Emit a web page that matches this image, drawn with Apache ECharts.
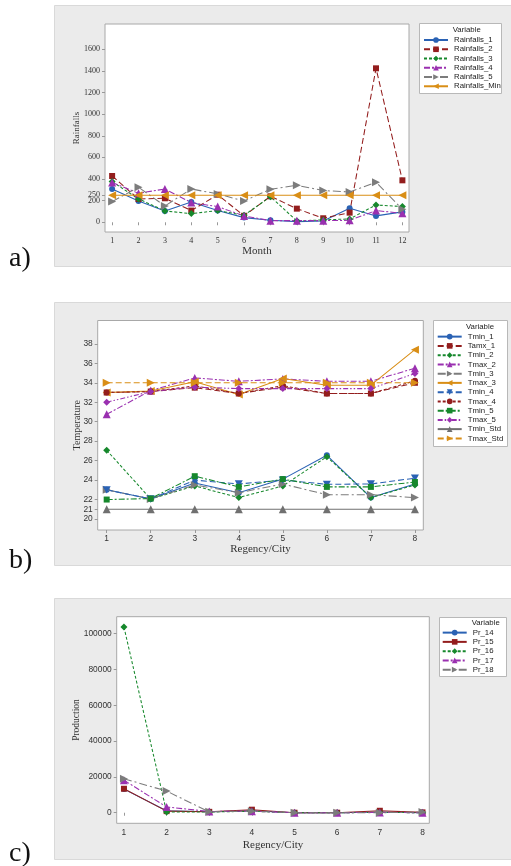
<!DOCTYPE html>
<html>
<head>
<meta charset="utf-8">
<script src="https://cdn.jsdelivr.net/npm/echarts@6/dist/echarts.min.js"></script>
<style>
  html, body { margin: 0; padding: 0; background: #fff; }
  #chart { width: 511px; height: 866px; }
</style>
</head>
<body>
<div id="chart"></div>
<script>
// ---- a) monthly rainfall ----
const months = [1, 2, 3, 4, 5, 6, 7, 8, 9, 10, 11, 12];
const rainfalls1 = [308, 197, 105, 188, 108, 43, 18, 6, 12, 130, 59, 96];
const rainfalls2 = [428, 215, 222, 108, 255, 60, 240, 126, 37, 89, 1424, 388];
const rainfalls3 = [376, 216, 105, 80, 108, 65, 237, 12, 22, 31, 160, 145];
const rainfalls4 = [367, 268, 308, 182, 145, 59, 15, 15, 15, 18, 108, 83];
const rainfalls5 = [191, 324, 151, 308, 262, 197, 305, 342, 293, 281, 370, 120];
const rainfallsMin = [250, 250, 250, 250, 250, 250, 250, 250, 250, 250, 250, 250];
const rainTicks = [0, 200, 250, 400, 600, 800, 1000, 1200, 1400, 1600];

// ---- b) temperature per regency/city ----
const regencies = [1, 2, 3, 4, 5, 6, 7, 8];
const tmin1 = [23.0, 22.06, 23.7, 22.7, 24.1, 26.55, 22.2, 23.6];
const tamx1 = [33.0, 33.1, 33.5, 32.9, 33.55, 32.9, 32.9, 34.0];
const tmin2 = [27.06, 22.06, 23.4, 22.2, 23.4, 26.4, 22.2, 23.5];
const tmax2 = [30.76, 33.2, 34.5, 34.15, 34.4, 34.15, 34.15, 35.5];
const tmin3 = [23.0, 22.06, 23.5, 22.7, 23.6, 22.5, 22.5, 22.2];
const tmax3 = [33.0, 33.15, 34.1, 32.8, 34.45, 33.75, 33.75, 37.4];
const tmin4 = [23.0, 22.06, 24.0, 23.6, 24.0, 23.57, 23.6, 24.2];
const tmax4 = [33.0, 33.1, 33.68, 32.9, 33.7, 32.9, 32.9, 34.2];
const tmin5 = [22.0, 22.1, 24.4, 23.3, 24.1, 23.3, 23.3, 23.8];
const tmax5 = [32.0, 33.1, 33.55, 33.4, 33.4, 33.4, 33.4, 34.95];
const tminStd = [21, 21, 21, 21, 21, 21, 21, 21];
const tmaxStd = [34, 34, 34, 34, 34, 34, 34, 34];
const tempTicks = [20, 21, 22, 24, 26, 28, 30, 32, 34, 36, 38];

// ---- c) production per regency/city ----
const pr14 = [13200, 1100, 500, 1100, 0, 0, 400, 0];
const pr15 = [13400, 900, 500, 1700, 0, 0, 1100, 200];
const pr16 = [103700, 400, 400, 800, 0, 0, 200, 0];
const pr17 = [18200, 3200, 700, 900, 0, 0, 200, 0];
const pr18 = [19000, 12100, 500, 900, 0, 0, 0, 400];
const prodTicks = [0, 20000, 40000, 60000, 80000, 100000];

// palette & marker shapes
const C = {
  blue: '#2a62b4', red: '#931d1d', green: '#16882c',
  purple: '#9a30b0', gray: '#7c7c7c', orange: '#d98e16', dgray: '#707070'
};
const TRI_R = 'path://M0,0L10,5L0,10Z';
const TRI_L = 'path://M10,0L0,5L10,10Z';
const TRI_D = 'path://M0,0L10,0L5,9Z';
const DASH = {
  solid: 'solid',
  long: [6, 3],
  short: [3, 2],
  dashdot: [6, 2, 2, 2],
  longdot: [8, 3, 2, 3],
  dashdotdot: [5, 2, 1.5, 2, 1.5, 2]
};

function pairs(xs, ys) { return xs.map((x, i) => [x, ys[i]]); }

function line(name, xs, ys, idx, color, symbol, size, dash) {
  return {
    name, type: 'line', xAxisIndex: idx, yAxisIndex: idx,
    data: pairs(xs, ys),
    symbol, symbolSize: size, symbolKeepAspect: true,
    itemStyle: { color, borderWidth: 0 },
    lineStyle: { color, width: 1.05, type: dash },
    emphasis: { disabled: true }, z: 3
  };
}

const series = [
  line('Rainfalls_1', months, rainfalls1, 0, C.blue, 'circle', 6, DASH.solid),
  line('Rainfalls_2', months, rainfalls2, 0, C.red, 'rect', 6, DASH.long),
  line('Rainfalls_3', months, rainfalls3, 0, C.green, 'diamond', 7, DASH.short),
  line('Rainfalls_4', months, rainfalls4, 0, C.purple, 'triangle', 8, DASH.dashdot),
  line('Rainfalls_5', months, rainfalls5, 0, C.gray, TRI_R, 8, DASH.longdot),
  line('Rainfalls_Min', months, rainfallsMin, 0, C.orange, TRI_L, 8, DASH.solid),

  line('Tmin_1', regencies, tmin1, 1, C.blue, 'circle', 6, DASH.solid),
  line('Tamx_1', regencies, tamx1, 1, C.red, 'rect', 6, DASH.long),
  line('Tmin_2', regencies, tmin2, 1, C.green, 'diamond', 7, DASH.short),
  line('Tmax_2', regencies, tmax2, 1, C.purple, 'triangle', 8, DASH.dashdot),
  line('Tmin_3', regencies, tmin3, 1, C.gray, TRI_R, 8, DASH.longdot),
  line('Tmax_3', regencies, tmax3, 1, C.orange, TRI_L, 8, DASH.solid),
  line('Tmin_4', regencies, tmin4, 1, C.blue, TRI_D, 8, DASH.long),
  line('Tmax_4', regencies, tmax4, 1, C.red, 'circle', 6, DASH.short),
  line('Tmin_5', regencies, tmin5, 1, C.green, 'rect', 6, DASH.dashdot),
  line('Tmax_5', regencies, tmax5, 1, C.purple, 'diamond', 7, DASH.dashdotdot),
  line('Tmin_Std', regencies, tminStd, 1, C.dgray, 'triangle', 8, DASH.solid),
  line('Tmax_Std', regencies, tmaxStd, 1, C.orange, TRI_R, 8, DASH.long),

  line('Pr_14', regencies, pr14, 2, C.blue, 'circle', 6, DASH.solid),
  line('Pr_15', regencies, pr15, 2, C.red, 'rect', 6, DASH.solid),
  line('Pr_16', regencies, pr16, 2, C.green, 'diamond', 7, DASH.short),
  line('Pr_17', regencies, pr17, 2, C.purple, 'triangle', 8, DASH.dashdot),
  line('Pr_18', regencies, pr18, 2, C.gray, TRI_R, 8, DASH.longdot)
];

const serif = 'Liberation Serif, Times New Roman, serif';
const sans = 'Liberation Sans, Arial, sans-serif';
const plain = v => String(v);

function grid(left, top, width, height) {
  return { left, top, width, height, show: true, backgroundColor: '#ffffff',
           borderColor: '#a8a8a8', borderWidth: 1, containLabel: false };
}

function xAxis(idx, min, max, ticks, font, name, nameGap) {
  return {
    type: 'value', gridIndex: idx, min, max, name,
    nameLocation: 'middle', nameGap, nameMoveOverlap: false,
    nameTextStyle: { fontFamily: serif, fontSize: 11, color: '#333' },
    axisLine: { show: false }, splitLine: { show: false },
    axisTick: { show: true, length: 3, lineStyle: { color: '#999' }, customValues: ticks },
    axisLabel: { customValues: ticks, formatter: plain, fontFamily: font,
                 fontSize: font === serif ? 8 : 8.4, color: '#333', margin: 5 }
  };
}

function yAxis(idx, min, max, ticks, font, name, nameGap, nameSize) {
  return {
    type: 'value', gridIndex: idx, min, max, name,
    nameLocation: 'middle', nameGap, nameRotate: 90, nameMoveOverlap: false,
    nameTextStyle: { fontFamily: serif, fontSize: nameSize, color: '#333' },
    axisLine: { show: false }, splitLine: { show: false },
    axisTick: { show: true, length: 3, lineStyle: { color: '#999' }, customValues: ticks },
    axisLabel: { customValues: ticks, formatter: plain, fontFamily: font,
                 fontSize: font === serif ? 8 : 8.4, color: '#333', margin: 5 }
  };
}

function legend(names, left, top) {
  return {
    data: names, orient: 'vertical', left, top, padding: 0,
    itemWidth: 24, itemHeight: 7, itemGap: 0,
    textStyle: { fontFamily: sans, fontSize: 7.8, color: '#222', lineHeight: 9.25, padding: [0, 0, 0, 1] },
    inactiveColor: '#ccc', selectedMode: false
  };
}

function panel(y, h) {
  return { type: 'rect', z: -10, silent: true,
           shape: { x: 54.5, y: y + 0.5, width: 470, height: h },
           style: { fill: '#ebebeb', stroke: '#d9d9d9', lineWidth: 1 } };
}
function legendBox(x, y, w, h) {
  return { type: 'rect', z: 2, silent: true,
           shape: { x: x + 0.5, y: y + 0.5, width: w, height: h },
           style: { fill: '#ffffff', stroke: '#b8b8b8', lineWidth: 1 } };
}
function header(x, y) {
  return { type: 'text', z: 5, silent: true, x, y,
           style: { text: 'Variable', font: '7.8px ' + sans, fill: '#222',
                    textAlign: 'left', textVerticalAlign: 'middle' } };
}
function tag(text, y) {
  return { type: 'text', z: 5, silent: true, x: 9, y,
           style: { text, font: '28px ' + serif, fill: '#111',
                    textAlign: 'left', textVerticalAlign: 'middle' } };
}

const option = {
  animation: false,
  backgroundColor: '#ffffff',
  grid: [
    grid(105, 24, 304, 208),
    grid(97.7, 320.5, 325.6, 209.5),
    grid(116.7, 616.7, 312.6, 206.6)
  ],
  xAxis: [
    xAxis(0, 0.73, 12.25, months, serif, 'Month', 14),
    xAxis(1, 0.796, 8.19, regencies, sans, 'Regency/City', 14),
    xAxis(2, 0.83, 8.16, regencies, sans, 'Regency/City', 16)
  ],
  yAxis: [
    yAxis(0, -90, 1834, rainTicks, serif, 'Rainfalls', 23.5, 9),
    yAxis(1, 18.87, 40.4, tempTicks, sans, 'Temperature', 15, 10),
    yAxis(2, -5900, 109500, prodTicks, sans, 'Production', 35, 9.5)
  ],
  legend: [
    legend(['Rainfalls_1', 'Rainfalls_2', 'Rainfalls_3', 'Rainfalls_4', 'Rainfalls_5', 'Rainfalls_Min'], 423, 35.4),
    legend(['Tmin_1', 'Tamx_1', 'Tmin_2', 'Tmax_2', 'Tmin_3', 'Tmax_3', 'Tmin_4', 'Tmax_4',
            'Tmin_5', 'Tmax_5', 'Tmin_Std', 'Tmax_Std'], 436.7, 332),
    legend(['Pr_14', 'Pr_15', 'Pr_16', 'Pr_17', 'Pr_18'], 441.7, 628)
  ],
  graphic: [
    panel(5, 261),
    panel(302, 263),
    panel(598, 261),
    legendBox(419, 23, 82, 70),
    legendBox(433, 320, 74, 126),
    legendBox(439, 617, 67, 59),
    header(452.7, 29.5),
    header(466, 327.3),
    header(471.7, 623.3),
    tag('a)', 259),
    tag('b)', 561),
    tag('c)', 854)
  ],
  series
};

const chart = echarts.init(document.getElementById('chart'), null, { renderer: 'canvas' });
chart.setOption(option);
</script>
</body>
</html>
